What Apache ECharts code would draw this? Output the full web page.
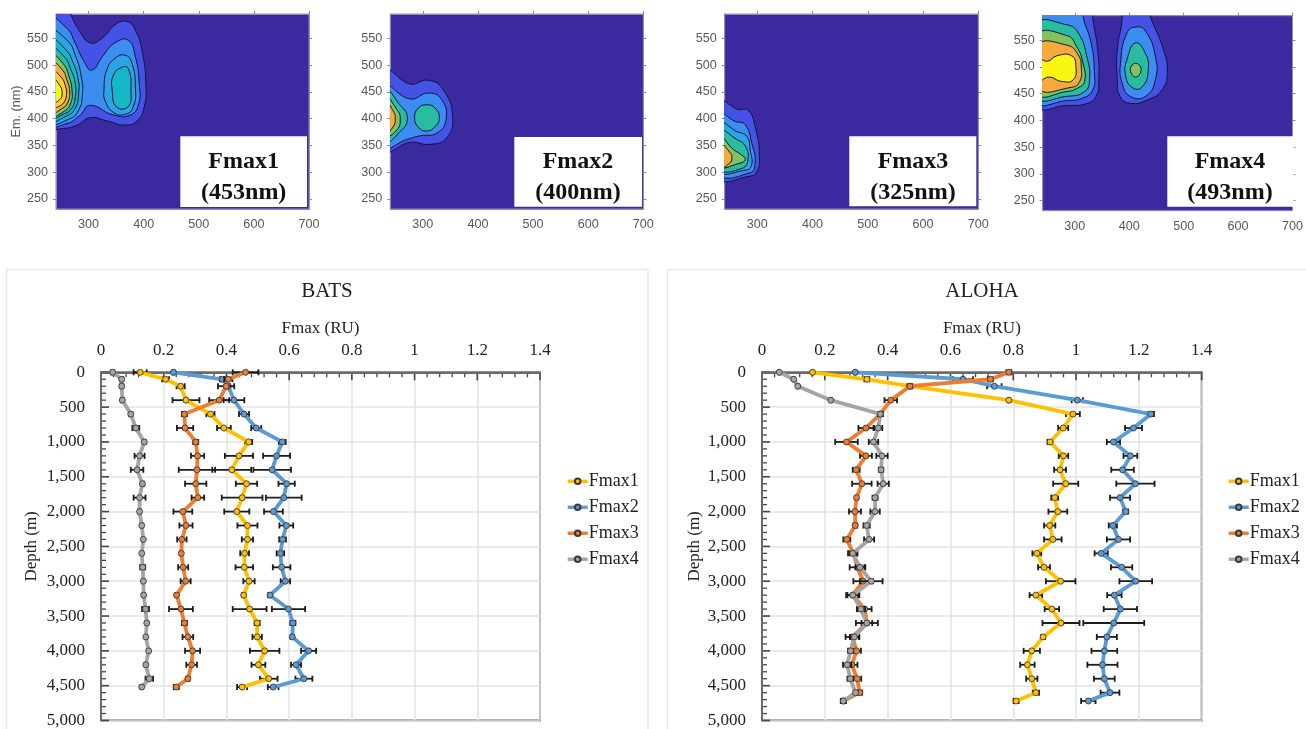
<!DOCTYPE html>
<html>
<head>
<meta charset="utf-8">
<style>html,body{margin:0;padding:0;background:#fff}#c{width:1306px;height:729px}</style>
<script src="https://cdn.jsdelivr.net/npm/echarts@6/dist/echarts.min.js"></script>
</head>
<body>
<div id="c"></div>
<script>
// ---- Excitation / emission contour polygons, in [Ex nm, Em nm] ----
const fmax1Contours = [
 ['royal',[[232,610],[262,610],[270,590],[285,562],[303,542],[324,550],[351,578],[372,581],[385,566],[397,528],[404,466],[401,422],[388,396],[366,388],[333,396],[303,402],[279,388],[255,382],[232,386]]],
 ['blue',[[232,585],[261,569],[276,541],[291,509],[306,491],[327,519],[348,542],[372,547],[385,516],[392,466],[391,428],[376,407],[345,407],[303,425],[285,407],[261,391],[232,391]]],
 ['sky',[[232,562],[261,547],[276,519],[287,478],[289,447],[282,416],[264,399],[232,395]]],
 ['sky',[[328,453],[333,491],[348,513],[366,519],[378,506],[385,460],[381,422],[366,408],[345,412],[330,434]]],
 ['cyan',[[343,453],[345,481],[360,496],[372,494],[377,453],[372,423],[351,422]]],
 ['cyan',[[232,547],[258,530],[272,505],[281,475],[282,447],[276,420],[260,405],[232,399]]],
 ['teal',[[232,531],[256,516],[268,492],[276,465],[276,440],[270,420],[256,409],[232,403]]],
 ['green',[[232,519],[254,503],[265,478],[270,453],[268,430],[256,414],[232,407]]],
 ['orange',[[232,506],[252,492],[261,472],[266,450],[262,430],[252,419],[232,412]]],
 ['gold',[[232,491],[250,478],[258,462],[260,445],[255,430],[246,423],[232,420]]],
 ['yellow',[[232,478],[248,462],[252,448],[248,436],[232,430]]]
];
const fmax2Contours = [
 ['royal',[[232,489],[277,465],[310,472],[337,454],[354,404],[343,364],[313,352],[277,356],[232,342]]],
 ['blue',[[232,459],[277,437],[310,448],[334,436],[342,398],[325,373],[295,368],[271,361],[232,349]]],
 ['teal',[[285,402],[292,420],[307,426],[322,420],[330,402],[322,385],[307,377],[292,384]]],
 ['teal',[[232,455],[256,429],[272,401],[256,373],[232,357]]],
 ['green',[[232,441],[253,417],[259,401],[253,379],[232,369]]],
 ['orange',[[232,433],[248,411],[250,401],[247,386],[232,373]]]
];
const fmax3Contours = [
 ['royal',[[232,431],[266,417],[283,416],[296,386],[304,329],[299,301],[284,292],[232,291]]],
 ['blue',[[232,408],[260,395],[278,389],[290,354],[296,317],[287,299],[232,298]]],
 ['sky',[[232,391],[263,376],[281,367],[287,342],[289,311],[275,303],[232,303]]],
 ['teal',[[232,377],[263,361],[278,349],[283,323],[272,307],[232,307]]],
 ['green',[[232,366],[257,342],[269,334],[278,324],[266,316],[232,312]]],
 ['orange',[[232,354],[251,336],[254,326],[250,317],[232,308]]]
];
const fmax4Contours = [
 ['royal',[[232,610],[331,610],[333,590],[342,532],[344,470],[339,445],[324,432],[285,428],[232,429]]],
 ['blue',[[232,610],[313,610],[316,590],[330,545],[336,489],[333,457],[315,442],[285,437],[232,437]]],
 ['royal',[[385,610],[387,590],[378,532],[378,476],[383,445],[402,432],[435,439],[460,457],[470,489],[463,532],[438,597],[436,610]]],
 ['blue',[[413,575],[396,564],[384,507],[387,470],[402,445],[430,445],[448,476],[448,520],[430,567]]],
 ['teal',[[232,579],[285,579],[306,564],[322,520],[327,476],[318,454],[285,445],[232,445]]],
 ['teal',[[411,545],[396,514],[393,486],[405,462],[423,462],[435,495],[428,529]]],
 ['green',[[412,507],[402,496],[412,481],[422,496]]],
 ['green',[[232,559],[285,559],[303,539],[315,507],[318,473],[306,461],[285,454],[232,451]]],
 ['orange',[[232,540],[285,541],[306,523],[312,498],[309,473],[294,462],[232,461]]],
 ['yellow',[[232,515],[250,511],[267,521],[294,521],[302,501],[297,476],[276,473],[252,481],[232,473]]]
];
const contourSets = [fmax1Contours, fmax2Contours, fmax3Contours, fmax4Contours];
const contourLabels = [['Fmax1','(453nm)'],['Fmax2','(400nm)'],['Fmax3','(325nm)'],['Fmax4','(493nm)']];
const exTicks = [300,400,500,600,700];
const emTicks = [250,300,350,400,450,500,550];

// ---- BATS depth profiles ----
const batsDepth = [0,100,200,400,600,800,1000,1200,1400,1600,1800,2000,2200,2400,2600,2800,3000,3200,3400,3600,3800,4000,4200,4400,4520];
const batsFmax1 = [.125,.206,.254,.271,.349,.392,.471,.440,.417,.464,.450,.433,.467,.467,.458,.457,.472,.455,.474,.498,.498,.522,.502,.535,.450];
const batsFmax1Err = [.021,.011,.013,.043,.013,.022,.011,.045,.062,.034,.065,.040,.032,.018,.014,.028,.018,.005,.054,.008,.015,.047,.022,.028,.016];
const batsFmax2 = [.231,.387,.406,.424,.456,.495,.578,.560,.546,.592,.583,.550,.591,.579,.572,.576,.588,.539,.598,.612,.610,.662,.622,.647,.549];
const batsFmax2Err = [.003,.008,.005,.033,.016,.016,.011,.043,.060,.026,.057,.030,.022,.011,.012,.028,.015,.006,.053,.008,.005,.024,.016,.027,.017];
const batsFmax3 = [.461,.406,.399,.377,.266,.268,.302,.308,.306,.302,.309,.261,.271,.258,.256,.262,.270,.241,.255,.266,.277,.292,.289,.277,.240];
const batsFmax3Err = [.041,.013,.026,.032,.008,.026,.008,.021,.058,.034,.020,.030,.021,.015,.003,.016,.016,.004,.038,.008,.017,.024,.017,.005,.008];
const batsFmax4 = [.037,.066,.066,.068,.095,.111,.138,.123,.115,.132,.123,.123,.130,.135,.130,.133,.135,.136,.142,.146,.143,.152,.143,.154,.130];
const batsFmax4Err = [.005,.005,.005,.005,.005,.011,.004,.016,.020,.005,.019,.005,.003,.002,.002,.008,.003,.003,.011,.003,.003,.003,.004,.012,.004];

// ---- ALOHA depth profiles ----
const alohaDepth = [0,100,200,400,600,800,1000,1200,1400,1600,1800,2000,2200,2400,2600,2800,3000,3200,3400,3600,3800,4000,4200,4400,4600,4720];
const alohaFmax1 = [.161,.334,.471,.786,.990,.959,.917,.960,.949,.967,.932,.942,.916,.926,.875,.898,.951,.872,.923,.952,.895,.859,.845,.859,.872,.809];
const alohaFmax1Err = [.002,.008,.002,.002,.022,.016,.008,.015,.019,.040,.011,.030,.018,.028,.014,.019,.047,.020,.023,.059,.006,.026,.023,.018,.010,.008];
const alohaFmax2 = [.297,.640,.740,1.004,1.238,1.183,1.119,1.173,1.148,1.189,1.140,1.158,1.117,1.135,1.080,1.145,1.190,1.122,1.141,1.120,1.098,1.090,1.084,1.090,1.108,1.039];
const alohaFmax2Err = [.002,.032,.023,.018,.010,.027,.021,.022,.036,.061,.032,.008,.013,.037,.021,.034,.052,.023,.053,.097,.032,.041,.048,.033,.030,.023];
const alohaFmax3 = [.786,.727,.471,.410,.376,.331,.269,.331,.300,.318,.301,.296,.297,.270,.291,.304,.322,.289,.327,.334,.288,.301,.286,.303,.311,.259];
const alohaFmax3Err = [.008,.008,.008,.020,.008,.024,.036,.019,.011,.031,.003,.019,.006,.011,.011,.025,.031,.017,.022,.017,.022,.014,.018,.013,.008,.008];
const alohaFmax4 = [.055,.101,.114,.219,.377,.370,.355,.382,.379,.386,.360,.360,.333,.341,.289,.312,.348,.289,.315,.334,.294,.282,.271,.281,.298,.259];
const alohaFmax4Err = [.002,.002,.002,.002,.008,.013,.015,.018,.007,.018,.008,.015,.010,.016,.015,.014,.036,.021,.013,.035,.014,.008,.013,.009,.006,.008];

const seriesNames = ['Fmax1','Fmax2','Fmax3','Fmax4'];
const depthTickStep = 500;
const fmaxTickStep = 0.2;
const depthMinorTicks = [0,100,200,300,400,500,600,700,800,900,1000,1100,1200,1300,1400,1500,1600,1700,1800,1900,2000,2100,2200,2300,2400,2500,2600,2700,2800,2900,3000,3100,3200,3300,3400,3500,3600,3700,3800,3900,4000,4100,4200,4300,4400,4500,4600,4700,4800,4900,5000];
const fmaxMinorTicks = [0,.04,.08,.12,.16,.2,.24,.28,.32,.36,.4,.44,.48,.52,.56,.6,.64,.68,.72,.76,.8,.84,.88,.92,.96,1,1.04,1.08,1.12,1.16,1.2,1.24,1.28,1.32,1.36,1.4];

// ---- Styling ----
const palette = {royal:'#4552e6',blue:'#3b8df0',sky:'#2aa4e2',cyan:'#15b7c6',teal:'#28bd9f',green:'#82c45b',orange:'#f6aa3b',gold:'#fbcf2a',yellow:'#f9f611'};
const lineColors = {Fmax1:'#ffc000',Fmax2:'#5b9bd5',Fmax3:'#ed7d31',Fmax4:'#a5a5a5'};
const sans = '"Liberation Sans", Arial, sans-serif';
const serif = '"Liberation Serif", "Times New Roman", serif';
const contourFrames = [
 {left:56,top:14,width:253,height:195,box:[180.3,136.3,126.7,70.7],cx:243.7},
 {left:390.3,top:14,width:253,height:195,box:[514.3,137,127.7,69.7],cx:578},
 {left:724.7,top:14,width:253.6,height:195,box:[849.3,136.3,127,70],cx:913},
 {left:1042.7,top:15.7,width:253,height:195,box:[1167.3,136.3,126.4,70.4],cx:1230}
];
const profileFrames = [
 {left:101,top:372.3,width:439,height:349.4,legend:566},
 {left:762,top:372.3,width:439.7,height:349.4,legend:1227}
];

const grid=[],xAxis=[],yAxis=[],series=[],graphic=[];

// Contour panels
contourSets.forEach((polys,i)=>{
  const f=contourFrames[i];
  grid.push({left:f.left,top:f.top,width:f.width,height:f.height,show:true,backgroundColor:'#3b2a9f',borderColor:'#8f8cb4',borderWidth:1});
  const xi=xAxis.length, yi=yAxis.length;
  const axLine={show:true,lineStyle:{color:'#8f8cb4',width:1}};
  const tick=(vals)=>({show:true,customValues:vals,length:3,lineStyle:{color:'#8a8a8a',width:1}});
  xAxis.push({type:'value',gridIndex:i,min:241,max:700,position:'bottom',axisLine:axLine,splitLine:{show:false},
    axisTick:{show:false},
    axisLabel:{customValues:exTicks,margin:9,color:'#585858',fontFamily:sans,fontSize:12.6}});
  xAxis.push({type:'value',gridIndex:i,min:241,max:700,position:'top',axisLine:axLine,splitLine:{show:false},
    axisTick:tick(exTicks),axisLabel:{show:false}});
  yAxis.push(Object.assign({type:'value',gridIndex:i,min:231,max:596,position:'left',axisLine:axLine,splitLine:{show:false},
    axisTick:tick(emTicks),
    axisLabel:{customValues:emTicks,margin:8,color:'#585858',fontFamily:sans,fontSize:12.6}},
    i===0?{name:'Em. (nm)',nameLocation:'middle',nameGap:32,nameRotate:90,nameTextStyle:{color:'#585858',fontFamily:sans,fontSize:12.6}}:{}));
  yAxis.push({type:'value',gridIndex:i,min:231,max:596,position:'right',axisLine:axLine,splitLine:{show:false},
    axisTick:tick(emTicks),axisLabel:{show:false}});
  series.push({type:'custom',xAxisIndex:xi,yAxisIndex:yi,coordinateSystem:'cartesian2d',clip:true,silent:true,z:2,
    data:polys.map(p=>[p[1][0][0],p[1][0][1]]),
    renderItem:(params,api)=>{
      const p=polys[params.dataIndex];
      return {type:'polygon',shape:{points:p[1].map(q=>api.coord(q)),smooth:0.5},
        style:{fill:palette[p[0]],stroke:'#12123c',lineWidth:1}};
    }});
  const [bx,by,bw,bh]=f.box;
  graphic.push({type:'rect',z:50,shape:{x:bx,y:by,width:bw,height:bh},style:{fill:'#fff'}});
  graphic.push({type:'text',z:51,x:f.cx,y:162,style:{text:contourLabels[i][0],font:'bold 24px '+serif,fill:'#111',textAlign:'center',textVerticalAlign:'middle'}});
  graphic.push({type:'text',z:51,x:f.cx,y:193,style:{text:contourLabels[i][1],font:'bold 24px '+serif,fill:'#111',textAlign:'center',textVerticalAlign:'middle'}});
});

// Card outlines and titles around the profile panels
[[6.5,269.5,641.5,470,'BATS',327],[667.5,269.5,650,470,'ALOHA',982]].forEach(c=>{
  graphic.push({type:'rect',shape:{x:c[0],y:c[1],width:c[2],height:c[3]},style:{fill:null,stroke:'#e9e9e9',lineWidth:1.5}});
  graphic.push({type:'text',z:5,x:c[5],y:291,style:{text:c[4],font:'21px '+serif,fill:'#222',textAlign:'center',textVerticalAlign:'middle'}});
});

// Profile panels
const axisColor='#6a6a6a';
const tickColor='#454545';
function profile(idx,depth,vals,errs){
  const f=profileFrames[idx], gi=grid.length;
  grid.push({left:f.left,top:f.top,width:f.width,height:f.height,show:true,borderColor:axisColor,borderWidth:2,backgroundColor:'transparent'});
  const xi=xAxis.length, yi=yAxis.length;
  const txt={color:'#222',fontFamily:serif,fontSize:17};
  xAxis.push({type:'value',gridIndex:gi,position:'top',z:6,min:0,max:1.4,interval:fmaxTickStep,
    name:'Fmax (RU)',nameLocation:'middle',nameGap:35,nameTextStyle:Object.assign({},txt),
    axisLine:{show:true,onZero:false,lineStyle:{color:axisColor,width:2}},axisTick:{show:false},
    splitLine:{show:true,lineStyle:{color:'#e3e3e3',width:1.5}},
    axisLabel:Object.assign({margin:13},txt)});
  yAxis.push({type:'value',gridIndex:gi,position:'left',z:6,inverse:true,min:0,max:5000,interval:depthTickStep,
    name:'Depth (m)',nameLocation:'middle',nameGap:idx===0?61:59,nameRotate:90,nameTextStyle:Object.assign({},txt),
    axisLine:{show:true,onZero:false,lineStyle:{color:axisColor,width:2}},axisTick:{show:false},
    splitLine:{show:true,lineStyle:{color:'#e3e3e3',width:1.5}},
    axisLabel:Object.assign({margin:16,formatter:v=>v.toLocaleString('en-US')},txt)});
  // Inward tick marks along the depth axis and the Fmax axis
  const tickStyle=major=>({stroke:tickColor,lineWidth:major?1.6:1.3});
  series.push({type:'custom',xAxisIndex:xi,yAxisIndex:yi,coordinateSystem:'cartesian2d',clip:false,silent:true,z:6,
    data:depthMinorTicks.map(d=>[0,d]),
    renderItem:(params,api)=>{
      const p=api.coord([api.value(0),api.value(1)]), major=api.value(1)%depthTickStep===0;
      return {type:'line',shape:{x1:p[0],y1:p[1],x2:p[0]+(major?8:5),y2:p[1]},style:tickStyle(major)};
    }});
  series.push({type:'custom',xAxisIndex:xi,yAxisIndex:yi,coordinateSystem:'cartesian2d',clip:false,silent:true,z:6,
    data:fmaxMinorTicks.map(v=>[v,0]),
    renderItem:(params,api)=>{
      const p=api.coord([api.value(0),api.value(1)]), major=Math.round(api.value(0)*100)%20===0;
      return {type:'line',shape:{x1:p[0],y1:p[1],x2:p[0],y2:p[1]+(major?8:5)},style:tickStyle(major)};
    }});
  seriesNames.forEach((name,k)=>{
    series.push({type:'custom',xAxisIndex:xi,yAxisIndex:yi,coordinateSystem:'cartesian2d',clip:false,silent:true,z:7+k*2,
      encode:{x:0,y:1},
      data:vals[k].map((v,j)=>[v,depth[j],errs[k][j]]),
      renderItem:(params,api)=>{
        const v=api.value(0),d=api.value(1),e=api.value(2);
        const a=api.coord([v-e,d]),b=api.coord([v+e,d]);
        const st={stroke:'#1c1c1c',lineWidth:1.8};
        return {type:'group',children:[
          {type:'line',shape:{x1:a[0],y1:a[1],x2:b[0],y2:b[1]},style:st},
          {type:'line',shape:{x1:a[0],y1:a[1]-3,x2:a[0],y2:a[1]+3},style:st},
          {type:'line',shape:{x1:b[0],y1:b[1]-3,x2:b[0],y2:b[1]+3},style:st}
        ]};
      }});
    series.push({type:'line',name,xAxisIndex:xi,yAxisIndex:yi,z:8+k*2,smooth:false,
      data:vals[k].map((v,j)=>[v,depth[j]]),
      symbol:'circle',symbolSize:6,showSymbol:true,clip:false,
      lineStyle:{color:lineColors[name],width:3.8},
      itemStyle:{color:lineColors[name],borderColor:'#3a3a3a',borderWidth:0.9}});
  });
}
profile(0,batsDepth,[batsFmax1,batsFmax2,batsFmax3,batsFmax4],[batsFmax1Err,batsFmax2Err,batsFmax3Err,batsFmax4Err]);
profile(1,alohaDepth,[alohaFmax1,alohaFmax2,alohaFmax3,alohaFmax4],[alohaFmax1Err,alohaFmax2Err,alohaFmax3Err,alohaFmax4Err]);

const legend=profileFrames.map(f=>({data:seriesNames,orient:'vertical',left:f.legend,top:471,itemWidth:20,itemHeight:7,itemGap:5.5,
  selectedMode:false,padding:0,lineStyle:{width:3.4},textStyle:{fontFamily:serif,fontSize:18,color:'#222',lineHeight:20.5,padding:[0,0,0,-4]}}));

const chart=echarts.init(document.getElementById('c'),null,{renderer:'canvas'});
chart.setOption({animation:false,backgroundColor:'#fff',grid,xAxis,yAxis,series,legend,graphic:{elements:graphic}});
</script>
</body>
</html>
